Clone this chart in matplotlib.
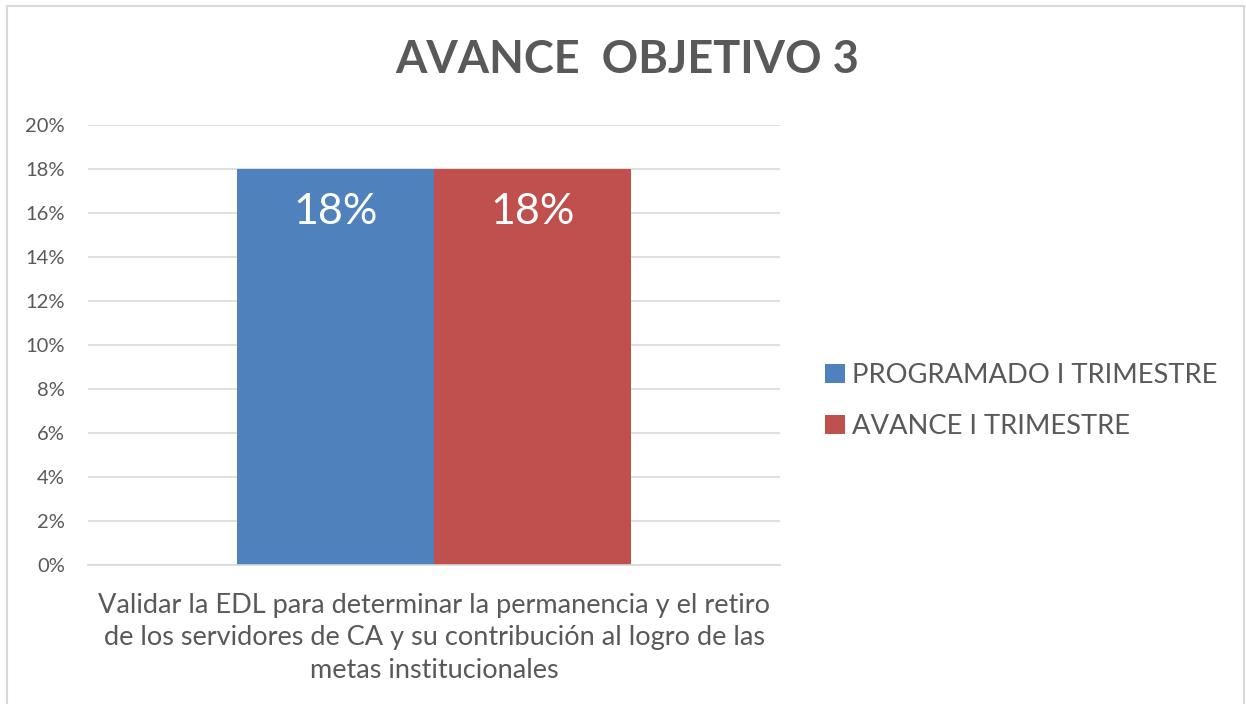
import matplotlib.pyplot as plt
from matplotlib.patches import Rectangle

plt.rcParams['font.family'] = ['Lato', 'DejaVu Sans']

categoria = 'Validar la EDL para determinar la permanencia y el retiro\nde los servidores de CA y su contribución al logro de las\nmetas institucionales'
series = ['PROGRAMADO I TRIMESTRE', 'AVANCE I TRIMESTRE']
valores = [0.18, 0.18]
colores = ['#4F81BD', '#C0504D']
ticks_y = [0, 0.02, 0.04, 0.06, 0.08, 0.10, 0.12, 0.14, 0.16, 0.18, 0.20]

gris = '#595959'
W, H = 1246, 704
fig = plt.figure(figsize=(W / 100, H / 100), dpi=100)
ax = fig.add_axes([88 / W, 1 - 565 / H, (780 - 88) / W, (565 - 125) / H])

ancho = 197 / 692
for i, (s, v, c) in enumerate(zip(series, valores, colores)):
    x = (i - 0.5) * ancho
    ax.bar(x, v, width=ancho, color=c, label=s, zorder=2)
    ax.annotate(f'{v:.0%}', xy=(x, v), xytext=(0, -31), textcoords='offset points',
                ha='center', va='center', color='white', fontsize=31, zorder=3)

ax.set_xlim(-0.5, 0.5)
ax.set_ylim(0, 0.20)
ax.set_yticks(ticks_y)
ax.set_yticklabels([f'{t:.0%}' for t in ticks_y])
ax.yaxis.grid(True, color='#D9D9D9', linewidth=1.2, zorder=0)
ax.set_xticks([0])
ax.set_xticklabels([categoria], fontsize=19.5, color=gris, linespacing=1.38)
ax.tick_params(axis='y', length=0, labelsize=14.5, labelcolor=gris, pad=16.5)
ax.tick_params(axis='x', length=0, pad=20)
for lado in ['left', 'right', 'top']:
    ax.spines[lado].set_visible(False)
ax.spines['bottom'].set_color('#D9D9D9')
ax.spines['bottom'].set_linewidth(1.2)

fig.text(627 / W, 1 - 60 / H, 'AVANCE  OBJETIVO 3', ha='center', va='center',
         fontsize=32.5, fontweight='bold', color=gris)

fig.legend(loc='center left', bbox_to_anchor=(825 / W, 1 - 401 / H), frameon=False,
           fontsize=19.7, labelcolor=gris, handlelength=0.73, handleheight=0.73,
           handletextpad=0.26, labelspacing=0.95, borderpad=0, borderaxespad=0)

fig.patches.append(Rectangle((7 / W, -0.01), (1244 - 7) / W, 1.01 - 6 / H, transform=fig.transFigure,
                             fill=False, edgecolor='#D9D9D9', linewidth=1.5))

fig.savefig('out.png', dpi=100)
